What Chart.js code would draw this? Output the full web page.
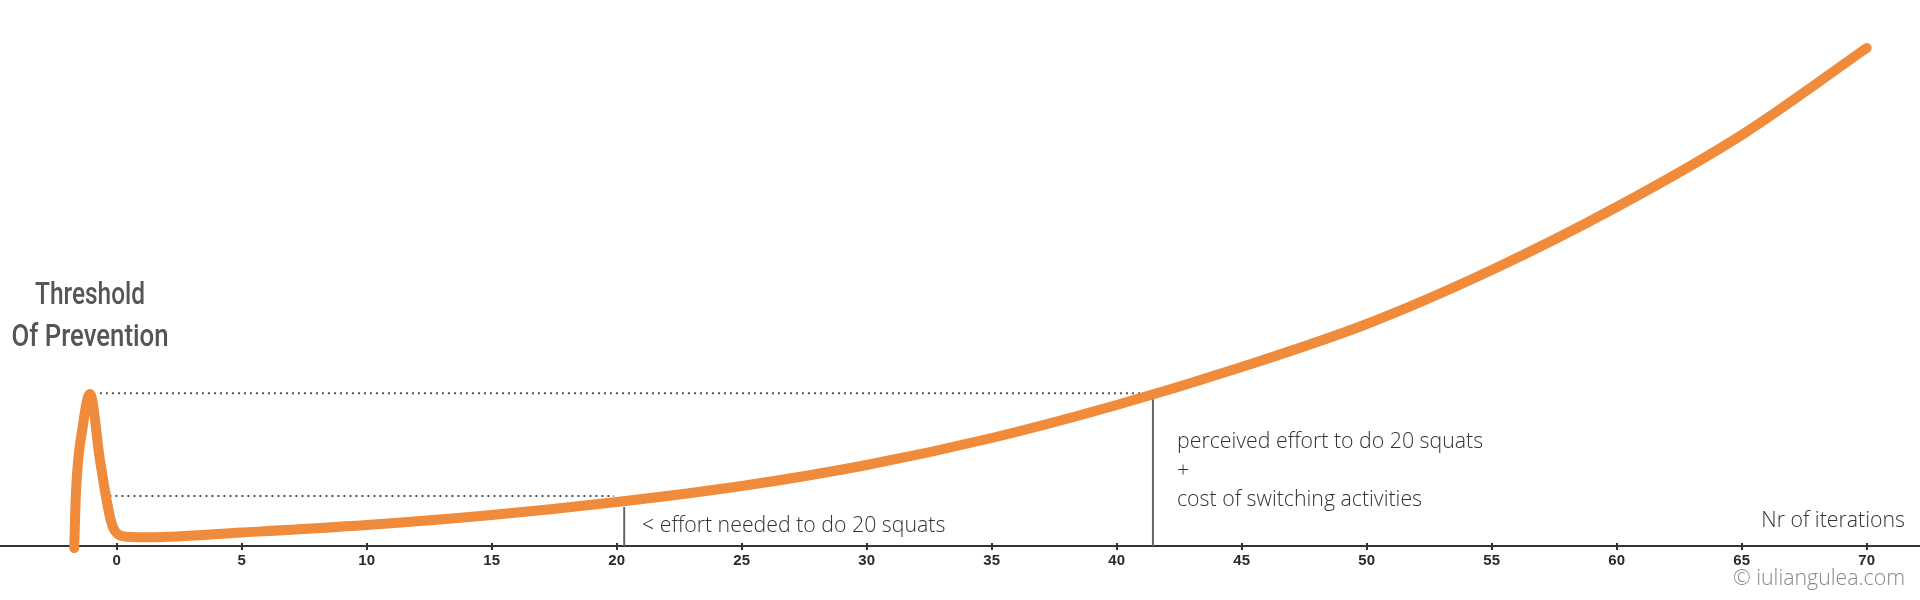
<!DOCTYPE html>
<html>
<head>
<meta charset="utf-8">
<title>Threshold Of Prevention</title>
<script src="https://cdn.jsdelivr.net/npm/chart.js@4/dist/chart.umd.min.js"></script>
<style>
    html, body { margin: 0; padding: 0; background: #fff; }
    #chart { display: block; }
</style>
</head>
<body>
<canvas id="chart" width="1920" height="600"></canvas>
<script>
// Kurve: Anzahl Wiederholungen -> empfundener Aufwand
const curveX = [-1.7, -1.63, -1.36, -1.07, -0.67, -0.27, -0.07, 0.4, 1.33, 5, 10, 15, 20, 25, 30, 35, 40, 45, 50, 55, 60, 65, 70];
const curveY = [-2, 53, 119, 152, 86, 29, 15, 9.3, 8.7, 13.5, 21, 31, 44, 60, 81, 108, 141, 179, 222, 276, 339, 411, 498];

// Hilfslinien (gepunktet und senkrecht)
const upperDotX = [-0.67, 41.4];
const upperDotY = [152.7, 152.7];
const lowerDotX = [-0.53, 19.9];
const lowerDotY = [50, 50];
const markerX = [20.3, 41.45];
const markerTop = [39, 153];

const xTicks = [0, 5, 10, 15, 20, 25, 30, 35, 40, 45, 50, 55, 60, 65, 70];

const X_MIN = -4.668;
const X_MAX = 72.132;
const Y_MAX = 546;

const toPoints = (xs, ys) => xs.map((x, i) => ({ x: x, y: ys[i] }));

const guideStyle = {
    borderColor: '#555',
    borderWidth: 2,
    borderDash: [2, 4],
    pointRadius: 0,
    fill: false,
    order: 2
};

const datasets = [
    {
        data: toPoints(curveX, curveY),
        borderColor: '#ef8b3b',
        borderWidth: 10,
        borderCapStyle: 'round',
        borderJoinStyle: 'round',
        cubicInterpolationMode: 'monotone',
        pointRadius: 0,
        fill: false,
        clip: false,
        order: 0
    },
    Object.assign({ data: toPoints(upperDotX, upperDotY) }, guideStyle),
    Object.assign({ data: toPoints(lowerDotX, lowerDotY) }, guideStyle)
];

markerX.forEach((x, i) => {
    datasets.push({
        data: [{ x: x, y: 0 }, { x: x, y: markerTop[i] }],
        borderColor: '#666',
        borderWidth: 2,
        pointRadius: 0,
        fill: false,
        order: 1
    });
});

// Texte und kleine Striche an der Achse
const annotations = {
    id: 'annotations',
    afterDraw(chart) {
        const ctx = chart.ctx;
        const xScale = chart.scales.x;
        const axisY = xScale.top;

        ctx.save();
        ctx.strokeStyle = '#333';
        ctx.lineWidth = 2;
        xScale.ticks.forEach(t => {
            const px = Math.round(xScale.getPixelForValue(t.value));
            ctx.beginPath();
            ctx.moveTo(px, axisY - 3);
            ctx.lineTo(px, axisY + 4);
            ctx.stroke();
        });

        // schmale Schrift fuer den Titel links (maxWidth staucht den Text)
        ctx.fillStyle = '#555';
        ctx.textAlign = 'center';
        ctx.textBaseline = 'alphabetic';
        ctx.font = '500 32px Roboto, "Noto Sans", sans-serif';
        ctx.fillText('Threshold', 90, 304, 110);
        ctx.fillText('Of Prevention', 90, 346, 157);

        ctx.fillStyle = '#333';
        ctx.textAlign = 'left';
        ctx.font = '300 21.3px "Open Sans", sans-serif';
        ctx.fillText('< effort needed to do 20 squats', 642, 532);
        ctx.fillText('perceived effort to do 20 squats', 1177, 448);
        ctx.fillText('+', 1177, 477);
        ctx.fillText('cost of switching activities', 1177, 506);

        ctx.textAlign = 'right';
        ctx.fillText('Nr of iterations', 1905, 527);
        ctx.fillStyle = '#888';
        ctx.fillText('\u00a9 iuliangulea.com', 1905, 585);
        ctx.restore();
    }
};

new Chart(document.getElementById('chart'), {
    type: 'line',
    data: { datasets: datasets },
    options: {
        responsive: false,
        animation: false,
        devicePixelRatio: 1,
        layout: { padding: 0 },
        plugins: {
            legend: { display: false },
            tooltip: { enabled: false }
        },
        scales: {
            x: {
                type: 'linear',
                min: X_MIN,
                max: X_MAX,
                afterBuildTicks: scale => {
                    scale.ticks = xTicks.map(v => ({ value: v }));
                },
                afterFit: scale => {
                    scale.height = 600 - Y_MAX;
                },
                grid: { display: false, drawTicks: false },
                border: { display: true, color: '#333', width: 2 },
                ticks: {
                    padding: 6,
                    color: '#2a2a2a',
                    font: { family: '"Liberation Sans", Arial, sans-serif', size: 15, weight: 'bold' },
                    maxRotation: 0,
                    autoSkip: false
                }
            },
            y: {
                type: 'linear',
                display: false,
                min: 0,
                max: Y_MAX
            }
        }
    },
    plugins: [annotations]
});
</script>
</body>
</html>
